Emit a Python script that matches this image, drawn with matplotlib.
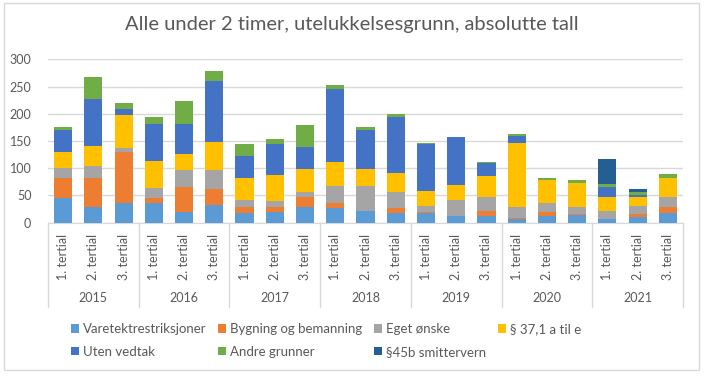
import matplotlib
matplotlib.use('Agg')
import matplotlib.pyplot as plt
import numpy as np
from matplotlib.patches import Rectangle

plt.rcParams['font.family'] = ['Lato', 'DejaVu Sans']

years = ['2015', '2016', '2017', '2018', '2019', '2020', '2021']
terms = ['1. tertial', '2. tertial', '3. tertial']

# one value per tertial, 2015 T1 .. 2021 T3
varetekt = [45, 29, 37, 36, 20, 32, 18, 20, 28, 27, 21, 17, 17, 12, 12, 7, 12, 15, 7, 10, 17]
bygning = [38, 54, 92, 10, 45, 29, 10, 8, 19, 10, 0, 10, 2, 0, 10, 1, 8, 1, 0, 6, 12]
eget = [17, 21, 9, 17, 32, 36, 13, 11, 9, 30, 47, 29, 11, 29, 26, 20, 17, 13, 15, 14, 19]
par37 = [30, 37, 60, 51, 30, 52, 41, 49, 42, 44, 30, 35, 28, 28, 38, 118, 42, 44, 25, 18, 35]
uten = [41, 87, 11, 67, 55, 111, 41, 57, 41, 134, 72, 104, 87, 89, 23, 14, 0, 0, 19, 3, 0]
andre = [5, 40, 11, 13, 42, 19, 22, 9, 40, 7, 6, 5, 2, 0, 2, 3, 4, 5, 5, 6, 6]
smitte = [0, 0, 0, 0, 0, 0, 0, 0, 0, 0, 0, 0, 0, 0, 0, 0, 0, 0, 46, 5, 0]

series = [
    ('Varetektrestriksjoner', varetekt, '#5B9BD5'),
    ('Bygning og bemanning', bygning, '#ED7D31'),
    ('Eget ønske', eget, '#A5A5A5'),
    ('§ 37,1 a til e', par37, '#FFC000'),
    ('Uten vedtak', uten, '#4472C4'),
    ('Andre grunner', andre, '#70AD47'),
    ('§45b smittervern', smitte, '#255E91'),
]

txt = '#595959'
grid = '#D9D9D9'

fig = plt.figure(figsize=(7.04, 3.78), dpi=100)
ax = fig.add_axes([0.0682, 0.4108, 0.9020, 0.4323])

x = np.arange(len(varetekt))
bottom = np.zeros(len(x))
for name, vals, col in series:
    ax.bar(x, vals, 0.6, bottom=bottom, color=col, label=name, zorder=3)
    bottom += np.array(vals)

ax.set_xlim(-0.5, len(x) - 0.5)
ax.set_ylim(0, 300)
ax.set_yticks(np.arange(0, 301, 50))
ax.yaxis.grid(True, color=grid, linewidth=1, zorder=0)
for s in ['top', 'right', 'left']:
    ax.spines[s].set_visible(False)
ax.spines['bottom'].set_color(grid)
ax.tick_params(axis='y', length=0, labelsize=9, labelcolor=txt, pad=12)
ax.set_xticks(x)
ax.set_xticklabels(terms * len(years), rotation=90, fontsize=9, color=txt)
ax.tick_params(axis='x', length=0, pad=8)

# second level: years + separators
tr = ax.get_xaxis_transform()
for i, yr in enumerate(years):
    ax.text(3 * i + 1, -0.46, yr, transform=tr, ha='center', va='center', fontsize=9, color=txt)
for xs in np.arange(-0.5, len(x), 3):
    ax.plot([xs, xs], [0, -0.516], transform=tr, color=grid, linewidth=1, clip_on=False)

fig.text(0.5, 0.934, 'Alle under 2 timer, utelukkelsesgrunn, absolutte tall',
         ha='center', va='center', fontsize=14.5, color=txt)

# legend filled row by row like Excel
handles, labels = ax.get_legend_handles_labels()
order = [0, 4, 1, 5, 2, 6, 3]
ax.legend([handles[i] for i in order], [labels[i] for i in order],
          loc='center left', bbox_to_anchor=(0.017, -0.72), ncol=4, frameon=False,
          fontsize=9.5, labelcolor=txt, handlelength=0.6, handleheight=0.6,
          handletextpad=0.3, columnspacing=0.9, labelspacing=0.8)

fig.patches.append(Rectangle((0.0057, 0.021), 0.987, 0.971, transform=fig.transFigure,
                             fill=False, edgecolor=grid, linewidth=1))

fig.savefig('out.png', dpi=100)
